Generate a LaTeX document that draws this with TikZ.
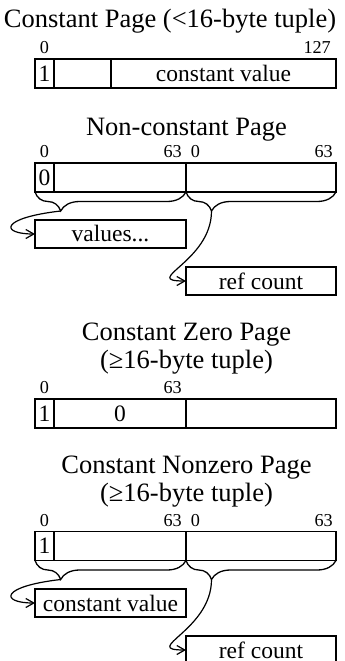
\documentclass[tikz,border=0pt]{standalone}
\usepackage{fontspec}
\setmainfont{Liberation Serif}
\usetikzlibrary{decorations.pathreplacing,arrows.meta,calc}

\tikzset{
  field/.style={draw, line width=1.4pt, outer sep=0pt, inner sep=0pt,
    anchor=north west, minimum height=29pt,
    font=\fontsize{23.5}{24}\selectfont},
  bitnum/.style={inner sep=0pt, font=\fontsize{18.2}{19}\selectfont},
  pagetitle/.style={inner sep=0pt, anchor=base,
    font=\fontsize{26.5}{28.3}\selectfont},
  hbrace/.style={decorate, line width=1.3pt,
    decoration={brace, mirror, amplitude=19pt, aspect=0.17}},
  link/.style={->, line width=1.2pt},
}
\newcommand{\twolines}[2]{\setlength{\tabcolsep}{0pt}%
  \begin{tabular}[t]{c}#1\\#2\end{tabular}}

\begin{document}
\begin{tikzpicture}[x=1pt, y=-1pt, >={Straight Barb[length=8pt, width=9pt]}]
\useasboundingbox (0,0) rectangle (345,661);
% ---- constant page ----
\node[pagetitle] (cp-title) at (170,28) {Constant Page (<16-byte tuple)};
\node[bitnum, anchor=base] (cp-b0) at (44.5,54) {0};
\node[bitnum, anchor=base east] (cp-b127) at (331,54) {127};
\node[field, minimum width=19pt] (cp-flag) at (35,59) {1};
\node[field, minimum width=57pt] (cp-pad) at (54,59) {};
\node[field, minimum width=225pt] (cp-val) at (111,59) {constant value};
% ---- non-constant page ----
\node[pagetitle] (nc-title) at (186.5,135) {Non-constant Page};
\node[bitnum, anchor=base] (nc-b0) at (44.5,157) {0};
\node[bitnum, anchor=base east] (nc-b63) at (182,157) {63};
\node[bitnum, anchor=base] (nc-c0) at (195.5,157) {0};
\node[bitnum, anchor=base east] (nc-c63) at (333,157) {63};
\node[field, minimum width=19pt] (nc-flag) at (35,163) {0};
\node[field, minimum width=132pt] (nc-lo) at (54,163) {};
\node[field, minimum width=150pt] (nc-hi) at (186,163) {};
\draw[hbrace] (nc-flag.south west) -- (nc-lo.south east);
\draw[hbrace] (nc-hi.south west) -- (nc-hi.south east);
\coordinate (nc-tipL) at ($(nc-flag.south west)!0.17!(nc-lo.south east)+(0,19)$);
\coordinate (nc-tipR) at ($(nc-hi.south west)!0.17!(nc-hi.south east)+(0,19)$);
\node[field, minimum width=151pt, minimum height=28pt] (nc-vals) at (35,220) {values...};
\node[field, minimum width=150pt, minimum height=28pt] (nc-ref) at (186,267) {ref count};
\draw[link] (nc-tipL) .. controls +(-61,7) and +(-35,0) .. (nc-vals.west);
\draw[link] (nc-tipR) .. controls +(0,51) and +(-46,0) .. (nc-ref.west);
% ---- constant zero page ----
\node[pagetitle] (cz-title) at (186.5,340)
  {\twolines{Constant Zero Page}{(≥16-byte tuple)}};
\node[bitnum, anchor=base] (cz-b0) at (44.5,393.3) {0};
\node[bitnum, anchor=base east] (cz-b63) at (182,393.3) {63};
\node[field, minimum width=19pt] (cz-flag) at (35,399) {1};
\node[field, minimum width=132pt] (cz-lo) at (54,399) {0};
\node[field, minimum width=150pt] (cz-hi) at (186,399) {};
% ---- constant nonzero page ----
\node[pagetitle] (cn-title) at (186.5,473.3)
  {\twolines{Constant Nonzero Page}{(≥16-byte tuple)}};
\node[bitnum, anchor=base] (cn-b0) at (44.5,526) {0};
\node[bitnum, anchor=base east] (cn-b63) at (182,526) {63};
\node[bitnum, anchor=base] (cn-c0) at (195.5,526) {0};
\node[bitnum, anchor=base east] (cn-c63) at (333,526) {63};
\node[field, minimum width=19pt] (cn-flag) at (35,531.5) {1};
\node[field, minimum width=132pt] (cn-lo) at (54,531.5) {};
\node[field, minimum width=150pt] (cn-hi) at (186,531.5) {};
\draw[hbrace] (cn-flag.south west) -- (cn-lo.south east);
\draw[hbrace] (cn-hi.south west) -- (cn-hi.south east);
\coordinate (cn-tipL) at ($(cn-flag.south west)!0.17!(cn-lo.south east)+(0,19)$);
\coordinate (cn-tipR) at ($(cn-hi.south west)!0.17!(cn-hi.south east)+(0,19)$);
\node[field, minimum width=151pt, minimum height=28pt] (cn-val) at (35,589) {constant value};
\node[field, minimum width=150pt, minimum height=28pt] (cn-ref) at (186,636) {ref count};
\draw[link] (cn-tipL) .. controls +(-61,7) and +(-35,0) .. (cn-val.west);
\draw[link] (cn-tipR) .. controls +(0,51) and +(-46,0) .. (cn-ref.west);
\end{tikzpicture}
\end{document}
